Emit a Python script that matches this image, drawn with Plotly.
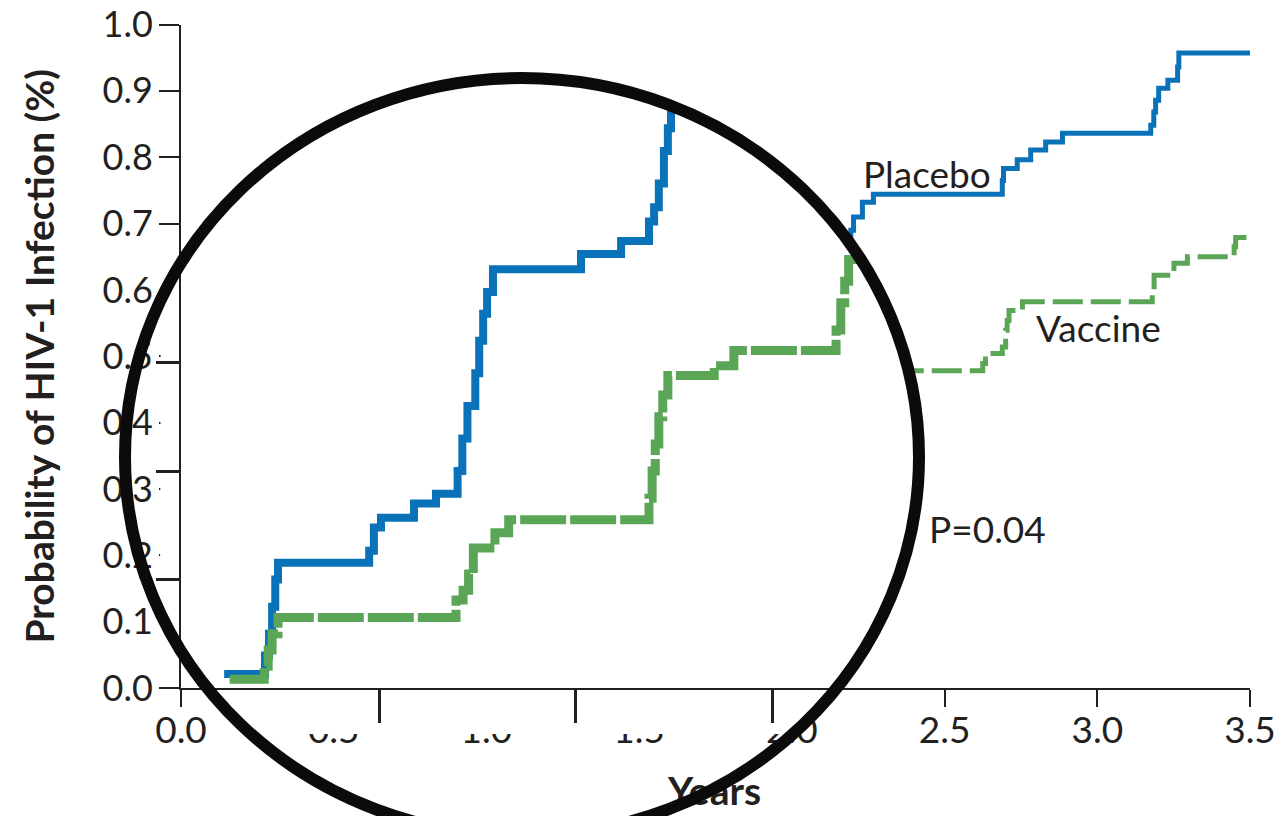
import math
import numpy as np
import plotly.graph_objects as go

# ---------------------------------------------------------------------------
# Cumulative probability of HIV-1 infection (%) by years since entry.
# Each value holds from its event time until the next event time.
# ---------------------------------------------------------------------------
placebo_t = [0.106, 0.210, 0.220, 0.228, 0.236, 0.243, 0.475, 0.487, 0.505,
             0.589, 0.645, 0.700, 0.712, 0.725, 0.745, 0.755, 0.765, 0.775,
             0.790, 1.014, 1.116, 1.187, 1.200, 1.212, 1.225, 1.235, 1.243,
             1.280, 1.400, 1.600, 1.800, 2.000, 2.120, 2.193, 2.202, 2.231,
             2.267, 2.689, 2.693, 2.738, 2.782, 2.831, 2.886, 3.175, 3.185,
             3.191, 3.201, 3.231, 3.263, 3.267]
placebo_p = [0.013, 0.030, 0.050, 0.075, 0.100, 0.1155, 0.1265, 0.148, 0.157,
             0.170, 0.179, 0.200, 0.230, 0.260, 0.290, 0.320, 0.345, 0.365,
             0.386, 0.400, 0.412, 0.430, 0.443, 0.465, 0.495, 0.516, 0.535,
             0.550, 0.570, 0.600, 0.630, 0.650, 0.670, 0.690, 0.710, 0.732,
             0.744, 0.765, 0.783, 0.796, 0.811, 0.823, 0.836, 0.848, 0.868,
             0.886, 0.904, 0.916, 0.936, 0.957]

vaccine_t = [0.120, 0.208, 0.218, 0.228, 0.243, 0.696, 0.714, 0.728, 0.740,
             0.795, 0.830, 1.187, 1.195, 1.203, 1.212, 1.222, 1.235, 1.353,
             1.403, 1.663, 1.675, 1.685, 1.695, 1.710, 1.850, 2.000, 2.150,
             2.625, 2.634, 2.689, 2.700, 2.705, 2.711, 2.755, 3.180, 3.186,
             3.251, 3.295, 3.448, 3.453]
vaccine_p = [0.008, 0.020, 0.035, 0.050, 0.065, 0.081, 0.090, 0.105, 0.129,
             0.143, 0.155, 0.175, 0.200, 0.225, 0.250, 0.270, 0.288, 0.297,
             0.311, 0.330, 0.355, 0.375, 0.395, 0.410, 0.430, 0.450, 0.478,
             0.489, 0.504, 0.514, 0.539, 0.554, 0.569, 0.582, 0.599, 0.622,
             0.640, 0.650, 0.665, 0.679]

follow_up_end = 3.51

x_tick_vals = [0.0, 0.5, 1.0, 1.5, 2.0, 2.5, 3.0, 3.5]
y_tick_vals = [0.0, 0.1, 0.2, 0.3, 0.4, 0.5, 0.6, 0.7, 0.8, 0.9, 1.0]
lens_x_ticks = [0.5, 1.0, 1.5]
lens_y_ticks = [0.1, 0.2, 0.3]

series_names = ["Placebo", "Vaccine"]
p_value_label = "P=0.04"
x_title = "Years"
y_title = "Probability of HIV-1 Infection (%)"

# ---------------------------------------------------------------------------
# Page geometry (pixels) and styling
# ---------------------------------------------------------------------------
W, H = 1277, 816
PLOT_L, PLOT_R = 181.0, 1250.0
PLOT_T, PLOT_B = 24.5, 688.0

# magnifier: scale of the enlarged view (px per unit) and the lens outline
LENS_SX, LENS_SY = 393.0, 1085.0
LENS_CX, LENS_CY, LENS_A, LENS_B = 522.0, 457.0, 397.0, 379.0
LENS_XMIN, LENS_YMAX = 160.0, 734.0

BLUE = "#0a72b8"
GREEN = "#5ba656"
INK = "#231f20"
FONT = "Lato"

x_dom = [PLOT_L / W, PLOT_R / W]
y_dom = [1 - PLOT_B / H, 1 - PLOT_T / H]

lens_xr = [-1.5 / LENS_SX, -1.5 / LENS_SX + (PLOT_R - PLOT_L) / LENS_SX]
lens_yr = [0.0, (PLOT_B - PLOT_T) / LENS_SY]


def lens_px(x, y):
    return (PLOT_L + (x - lens_xr[0]) * LENS_SX, PLOT_B - (y - lens_yr[0]) * LENS_SY)


def lens_data(px, py):
    return (lens_xr[0] + (px - PLOT_L) / LENS_SX, lens_yr[0] + (PLOT_B - py) / LENS_SY)


def step_path(t, p, t_end):
    xs, ys = [t[0]], [p[0]]
    for i in range(1, len(t)):
        xs += [t[i], t[i]]
        ys += [p[i - 1], p[i]]
    xs.append(t_end)
    ys.append(p[-1])
    return xs, ys


def clip_to_lens(xs, ys):
    """Keep only the parts of an axis-aligned step path that fall inside the lens."""
    out_x, out_y = [], []
    last = None
    for i in range(len(xs) - 1):
        px0, py0 = lens_px(xs[i], ys[i])
        px1, py1 = lens_px(xs[i + 1], ys[i + 1])
        if abs(py0 - py1) < 1e-9:      # horizontal piece
            r = 1 - ((py0 - LENS_CY) / LENS_B) ** 2
            if r <= 0:
                continue
            half = LENS_A * math.sqrt(r)
            lo, hi = max(LENS_CX - half, LENS_XMIN), LENS_CX + half
            a, b = max(min(px0, px1), lo), min(max(px0, px1), hi)
            if a >= b:
                continue
            s, e = (a, py0), (b, py0)
        else:                          # vertical piece
            r = 1 - ((px0 - LENS_CX) / LENS_A) ** 2
            if r <= 0:
                continue
            half = LENS_B * math.sqrt(r)
            lo, hi = LENS_CY - half, min(LENS_CY + half, LENS_YMAX)
            a, b = max(min(py0, py1), lo), min(max(py0, py1), hi)
            if a >= b:
                continue
            s, e = (px0, b), (px0, a)
        if last is not None and abs(last[0] - s[0]) < 1e-6 and abs(last[1] - s[1]) < 1e-6:
            d = lens_data(*e)
            out_x.append(d[0]); out_y.append(d[1])
        else:
            if out_x:
                out_x.append(None); out_y.append(None)
            for pt in (s, e):
                d = lens_data(*pt)
                out_x.append(d[0]); out_y.append(d[1])
        last = e
    return out_x, out_y


fig = go.Figure()

# full-scale curves
fig.add_trace(go.Scatter(
    x=placebo_t + [follow_up_end], y=placebo_p + [placebo_p[-1]],
    mode="lines", line=dict(color=BLUE, width=5, shape="hv"),
    xaxis="x", yaxis="y", hoverinfo="skip", showlegend=False))
fig.add_trace(go.Scatter(
    x=vaccine_t + [follow_up_end], y=vaccine_p + [vaccine_p[-1]],
    mode="lines", line=dict(color=GREEN, width=5, shape="hv", dash="30px,8px"),
    xaxis="x", yaxis="y", hoverinfo="skip", showlegend=False))

# lens background: hides the full-scale view under the magnifier
theta = np.linspace(0, 2 * np.pi, 721)
mask_x = np.maximum(LENS_CX + LENS_A * np.cos(theta), LENS_XMIN)
mask_y = np.minimum(LENS_CY + LENS_B * np.sin(theta), LENS_YMAX)
fig.add_trace(go.Scatter(
    x=mask_x, y=mask_y, mode="lines", fill="toself", fillcolor="white",
    line=dict(width=0, color="white"), xaxis="x2", yaxis="y2",
    hoverinfo="skip", showlegend=False))
fig.add_trace(go.Scatter(
    x=[714.5], y=[795], mode="text", text=[f"<b>{x_title}</b>"],
    textfont=dict(family=FONT, size=39, color=INK),
    xaxis="x2", yaxis="y2", hoverinfo="skip", showlegend=False))

# enlarged curves seen through the lens
for t, p, col, dash, w in [(placebo_t, placebo_p, BLUE, None, 8),
                           (vaccine_t, vaccine_p, GREEN, "46px,4px", 9)]:
    sx, sy = step_path(t, p, follow_up_end)
    cx, cy = clip_to_lens(sx, sy)
    fig.add_trace(go.Scatter(
        x=cx, y=cy, mode="lines", connectgaps=False,
        line=dict(color=col, width=w, dash=dash),
        xaxis="x3", yaxis="y3", hoverinfo="skip", showlegend=False))

axis_common = dict(showgrid=False, zeroline=False, automargin=False,
                   linecolor=INK, linewidth=2, tickcolor=INK, tickwidth=2,
                   ticks="outside", fixedrange=True)

fig.update_layout(
    width=W, height=H,
    margin=dict(l=0, r=0, t=0, b=0),
    paper_bgcolor="white", plot_bgcolor="rgba(0,0,0,0)",
    font=dict(family=FONT, color=INK),
    xaxis=dict(domain=x_dom, range=[0, 3.5], anchor="y",
               tickvals=x_tick_vals, ticktext=[f"{v:.1f}" for v in x_tick_vals],
               ticklen=17, tickfont=dict(size=37, family=FONT, color=INK),
               ticklabelstandoff=-8, showline=True, **axis_common),
    yaxis=dict(domain=y_dom, range=[0, 1.0], anchor="x",
               tickvals=y_tick_vals, ticktext=[f"{v:.1f}" for v in y_tick_vals],
               ticklen=20, tickfont=dict(size=36, family=FONT, color=INK),
               ticklabelstandoff=-1, showline=True,
               title=dict(text=f"<b>{y_title}</b>", standoff=36,
                          font=dict(size=39, family=FONT, color=INK)),
               **axis_common),
    xaxis2=dict(domain=[0, 1], range=[0, W], anchor="y2", visible=False, fixedrange=True),
    yaxis2=dict(domain=[0, 1], range=[H, 0], anchor="x2", visible=False, fixedrange=True),
    xaxis3=dict(domain=x_dom, range=lens_xr, anchor="y3",
                tickvals=lens_x_ticks, ticklen=33, showticklabels=False,
                showline=True, **{**axis_common, "tickwidth": 2.5}),
    yaxis3=dict(domain=y_dom, range=lens_yr, anchor="x3",
                tickvals=lens_y_ticks, ticklen=23, showticklabels=False,
                showline=True, **{**axis_common, "tickwidth": 2.5}),
    shapes=[dict(type="circle", xref="x2", yref="y2", layer="above",
                 x0=LENS_CX - LENS_A, x1=LENS_CX + LENS_A,
                 y0=LENS_CY - LENS_B, y1=LENS_CY + LENS_B,
                 line=dict(color="#0b0b0b", width=12))],
    annotations=[
        dict(x=2.441, y=0.776, xref="x", yref="y", text=series_names[0], showarrow=False,
             font=dict(size=37, family=FONT, color=INK)),
        dict(x=3.005, y=0.544, xref="x", yref="y", text=series_names[1], showarrow=False,
             font=dict(size=37, family=FONT, color=INK)),
        dict(x=2.641, y=0.240, xref="x", yref="y", text=p_value_label, showarrow=False,
             font=dict(size=37, family=FONT, color=INK)),
    ],
)

fig.write_html("out.html")
